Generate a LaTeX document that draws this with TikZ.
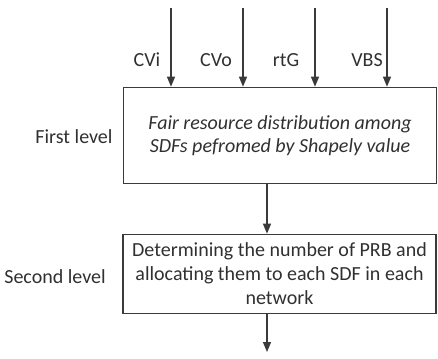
\documentclass[tikz,border=0pt]{standalone}
\usepackage{fontspec}
\setmainfont{Carlito}
\usetikzlibrary{arrows.meta}
\definecolor{ink}{HTML}{3A3A3A}
\definecolor{txt}{HTML}{303030}
\tikzset{
  box/.style={draw=ink, line width=1.6pt, rectangle, inner sep=0pt, align=center, text=txt, font=\fontsize{20}{23.5}\selectfont},
  arr/.style={draw=ink, line width=1.3pt, -{Triangle[width=8pt,length=10pt]}},
  lab/.style={text=txt, font=\fontsize{20}{23}\selectfont, inner sep=0pt}
}
\begin{document}
\begin{tikzpicture}[x=1pt,y=-1pt]
\useasboundingbox (0,0) rectangle (438,358);
\node[box, minimum width=313pt, minimum height=96pt] (b1) at (280,135.5)
  {\itshape Fair resource distribution among\\\itshape SDFs pefromed by Shapely value};
\node[box, minimum width=313pt, minimum height=79pt, font=\fontsize{20}{24}\selectfont] (b2) at (279.5,274)
  {Determining the number of PRB and\\allocating them to each SDF in each\\network};
\node[lab] (l1) at (74,137) {First level};
\node[lab] (l2) at (55,277) {Second level};
\coordinate (t1) at (171,8);
\coordinate (t2) at (243,8);
\coordinate (t3) at (315,8);
\coordinate (t4) at (387,8);
\draw[arr] (t1) -- (t1 |- b1.north);
\draw[arr] (t2) -- (t2 |- b1.north);
\draw[arr] (t3) -- (t3 |- b1.north);
\draw[arr] (t4) -- (t4 |- b1.north);
\node[lab] (c1) at (147,60) {CVi};
\node[lab] (c2) at (216,60) {CVo};
\node[lab] (c3) at (286,60) {rtG};
\node[lab] (c4) at (367,60) {VBS};
\coordinate (mid) at (267,0);
\draw[arr] (mid |- b1.south) -- (mid |- b2.north);
\coordinate (endp) at (267,352);
\draw[arr] (mid |- b2.south) -- (endp);
\end{tikzpicture}
\end{document}
